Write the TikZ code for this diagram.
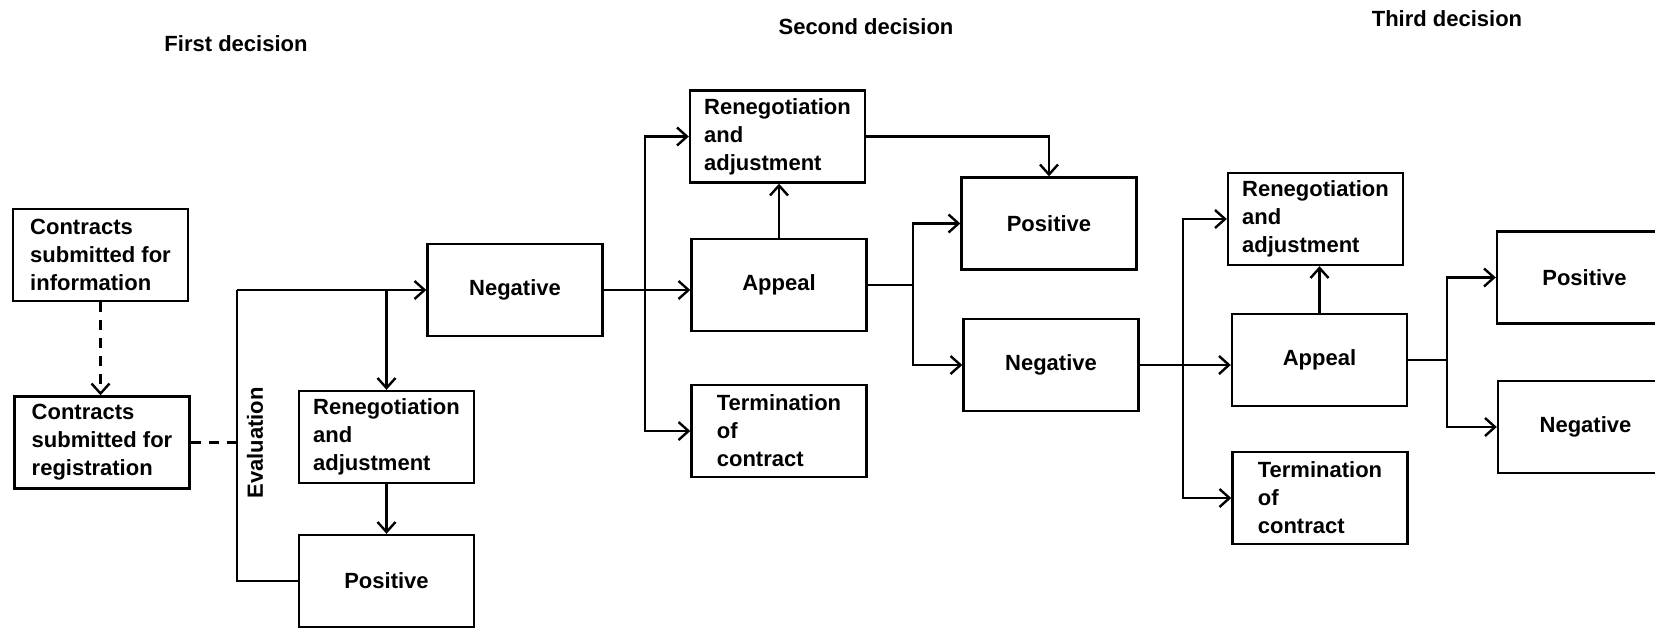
\documentclass[tikz,border=0pt]{standalone}
\usepackage{fontspec}
\setmainfont{Liberation Sans}
\usepackage{tikz}
\usetikzlibrary{positioning,arrows.meta}
\tikzstyle{stage} = [draw, line width=1.2pt, minimum width=87.5pt, minimum height=46pt, inner sep=3pt, align=left]
\tikzstyle{link} = [line width=1.2pt]
\tikzstyle{flow} = [link, -{Straight Barb[length=5pt,width=9pt,line width=1.2pt]}]
\tikzstyle{hint} = [dash pattern=on 5pt off 4pt]

\begin{document}
\begin{tikzpicture}[x=0.5pt, y=-0.5pt, every node/.style={font=\bfseries\fontsize{11}{14}\selectfont}]
			\useasboundingbox (0,0) rectangle (1655,627);
			\clip (0,0) rectangle (1655,627);
			\node (first) at (236,44) {First decision};
			\node (second) at (866,27) {Second decision};
			\node (third) at (1447,19) {Third decision};
			\node[stage] (info) at (100.5,255) {Contracts\\submitted for\\information};
			\node[stage] (reg) at (102,442.5) {Contracts\\submitted for\\registration};
			\node[stage] (ren1) at (386.5,437) {Renegotiation\\and\\adjustment};
			\node[stage] (pos1) at (386.5,581) {Positive};
			\node[stage] (neg1) at (515,290) {Negative};
			\node[rotate=90] (eval) at (255,443) {Evaluation};
			\node[stage] (ren2) at (777.5,136.5) {Renegotiation\\and\\adjustment};
			\node[stage] (app2) at (779,285) {Appeal};
			\node[stage] (ter2) at (779,431) {Termination\\of\\contract};
			\node[stage] (pos2) at (1049,223.5) {Positive};
			\node[stage] (neg2) at (1051,365) {Negative};
			\node[stage] (ren3) at (1315.5,219) {Renegotiation\\and\\adjustment};
			\node[stage] (app3) at (1319.5,360) {Appeal};
			\node[stage] (ter3) at (1320,498) {Termination\\of\\contract};
			\node[stage] (pos3) at (1584.5,277.5) {Positive};
			\node[stage] (neg3) at (1585.5,427) {Negative};
			\coordinate (evtop) at (237,290);
			\coordinate (evbot) at (237,581);
			\coordinate (fork2) at (645,290);
			\coordinate (fork3) at (913,285);
			\coordinate (fork4) at (1183,365);
			\coordinate (fork5) at (1447,360);
			\draw[flow, hint] (info.south) -- (info.south |- reg.north);
			\draw[link, hint] (reg.east) -- (reg.east -| evtop);
			\draw[link] (pos1.west) -- (evbot) -- (evtop);
			\draw[flow] (evtop) -- (neg1.west);
			\draw[flow] (ren1.north |- evtop) -- (ren1.north);
			\draw[flow] (ren1.south) -- (ren1.south |- pos1.north);
			\draw[flow] (neg1.east) -- (neg1.east -| app2.west);
			\draw[flow] (fork2) |- (ren2.west);
			\draw[flow] (fork2) |- (ter2.west);
			\draw[flow] (app2.north) -- (app2.north |- ren2.south);
			\draw[flow] (ren2.east) -| (pos2.north);
			\draw[link] (app2.east) -- (fork3);
			\draw[flow] (fork3) |- (pos2.west);
			\draw[flow] (fork3) |- (neg2.west);
			\draw[flow] (neg2.east) -- (neg2.east -| app3.west);
			\draw[flow] (fork4) |- (ren3.west);
			\draw[flow] (fork4) |- (ter3.west);
			\draw[flow] (app3.north) -- (app3.north |- ren3.south);
			\draw[link] (app3.east) -- (fork5);
			\draw[flow] (fork5) |- (pos3.west);
			\draw[flow] (fork5) |- (neg3.west);
		\end{tikzpicture}
\end{document}
